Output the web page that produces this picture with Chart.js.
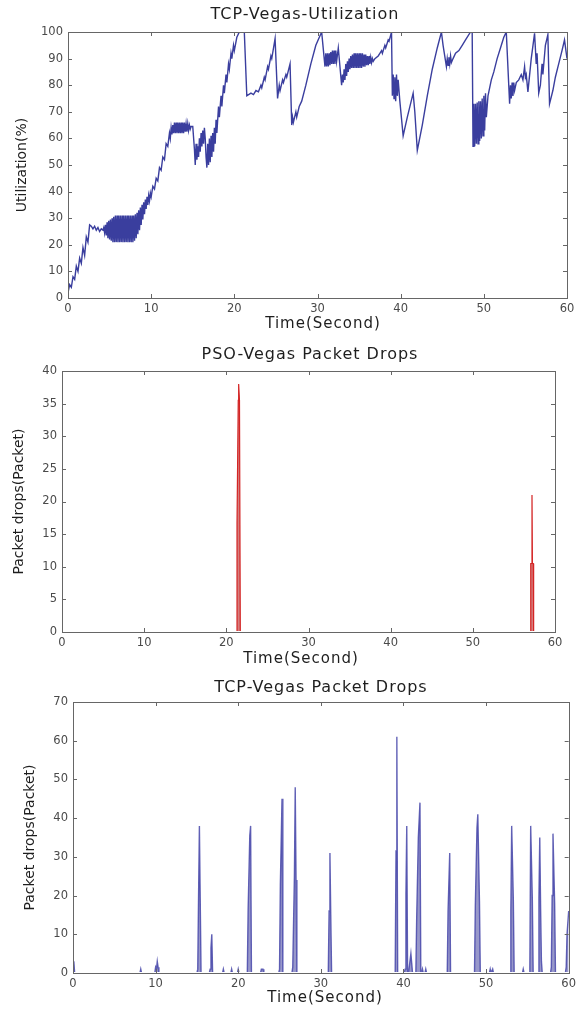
<!DOCTYPE html>
<html>
<head>
<meta charset="utf-8">
<title>TCP-Vegas</title>
<script src="https://cdn.jsdelivr.net/npm/chart.js"></script>
<style>
  body { margin: 0; background: #fff; }
  #page { position: relative; width: 580px; height: 1010px; }
  canvas { position: absolute; left: 0; }
</style>
</head>
<body>
<div id="page">
  <canvas id="utilChart" width="580" height="340" style="top:0px"></canvas>
  <canvas id="psoChart" width="580" height="336" style="top:336px"></canvas>
  <canvas id="vegasChart" width="580" height="338" style="top:672px"></canvas>
</div>
<script>
// TCP-Vegas utilization (%)
const utilTime = [
  0, 0.2, 0.4, 0.6, 0.8, 1.0, 1.2, 1.4, 1.6, 1.8, 2.0, 2.2, 2.4, 2.6,
  2.8, 3.0, 3.2, 3.4, 3.6, 3.8, 4.0, 4.2,
  4.3, 4.4, 4.5, 4.6, 4.7, 4.8, 4.9, 5.0, 5.1, 5.2, 5.3, 5.4, 5.5, 5.6, 5.7,
  5.8, 5.9, 6.0, 6.1, 6.2, 6.3, 6.4, 6.5, 6.6, 6.7, 6.8,
  6.9, 7.0, 7.1, 7.2, 7.3, 7.4, 7.5, 7.6, 7.7, 7.8,
  7.9, 8.0, 8.1, 8.2, 8.3, 8.4, 8.5, 8.6, 8.7, 8.8, 8.9,
  9.0, 9.1, 9.2, 9.3, 9.4, 9.5, 9.6, 9.7, 9.8, 9.9, 10.0,
  10.2, 10.4, 10.6, 10.8, 11.0, 11.2, 11.4, 11.6, 11.8, 12.0, 12.2,
  12.3, 12.4, 12.5, 12.6, 12.7, 12.8, 12.9, 13.0, 13.1, 13.2, 13.3, 13.4, 13.5,
  13.6, 13.7, 13.8, 13.9, 14.0, 14.1, 14.2, 14.3, 14.4, 14.5, 14.6, 14.7, 14.8, 15.0,
  15.2, 15.3, 15.4, 15.5, 15.6, 15.7, 15.8, 15.9, 16.0, 16.1, 16.2, 16.3, 16.4, 16.5,
  16.6, 16.7, 16.8, 16.9, 17.0, 17.1, 17.2, 17.3, 17.4, 17.5, 17.6, 17.7, 17.8, 17.9,
  18.1, 18.2, 18.4, 18.5, 18.7, 18.8, 19.0, 19.1, 19.3, 19.4, 19.6, 19.7, 19.9, 20.0,
  20.3, 20.6, 21.2,
  21.5, 22.0, 22.3, 22.6, 22.9, 23.2, 23.3, 23.6, 23.7, 24.0, 24.1, 24.4, 24.5, 24.9,
  25.2, 25.4, 25.5, 25.8, 25.9, 26.2, 26.3, 26.7, 26.9, 27.0, 27.1, 27.4, 27.5, 27.8,
  28.1, 28.6, 29.2, 29.8, 30.5,
  30.9, 31.0, 31.1, 31.2, 31.3, 31.4, 31.5, 31.6, 31.7, 31.8, 31.9, 32.0, 32.1, 32.2, 32.3, 32.5,
  32.9, 33.0, 33.1, 33.2, 33.3, 33.4, 33.5, 33.6, 33.7, 33.8, 33.9, 34.0, 34.1, 34.2,
  34.3, 34.4, 34.5, 34.6, 34.7, 34.8, 34.9, 35.0, 35.1, 35.2, 35.3, 35.4, 35.5, 35.6,
  35.7, 35.8, 35.9, 36.0, 36.1, 36.2, 36.3, 36.4, 36.5, 36.6, 36.7, 36.9,
  37.3, 37.5, 37.7, 37.8, 38.1, 38.2, 38.5, 38.6, 38.9,
  39.0, 39.1, 39.2, 39.3, 39.4, 39.5, 39.6, 39.7, 39.9, 40.3, 40.8, 41.5, 41.7, 42.0,
  42.6, 43.2, 43.8, 44.4, 44.9, 45.1, 45.5, 45.6, 45.7, 45.8, 45.9, 46.0, 46.1, 46.3,
  46.6, 47.0, 47.4, 47.8, 48.4, 48.6,
  48.7, 48.8, 48.9, 49.0, 49.1, 49.2, 49.3, 49.4, 49.5, 49.6, 49.7, 49.8, 49.9, 50.0,
  50.1, 50.2, 50.3, 50.5, 50.9, 51.2, 51.6, 52.0, 52.4, 52.7,
  53.1, 53.2, 53.3, 53.4, 53.5, 53.6, 53.7, 53.9, 54.2, 54.5, 54.7, 54.9, 55.0, 55.1,
  55.3, 55.7, 56.1, 56.3, 56.4, 56.6, 56.8, 57.0, 57.1, 57.4, 57.7, 57.9, 58.3, 58.6,
  59.0, 59.4, 59.7, 60.0
];
const utilValue = [
  2, 5, 4, 8, 7, 12, 10, 15, 13, 19, 16, 23, 21, 27.5,
  27, 26, 27, 25.5, 26.5, 25, 26, 25.5,
  26.5, 24.5, 27.5, 23.5, 28.5, 22.5, 29, 22, 29.5, 21.5, 30, 21, 30.5, 21, 31,
  21, 31, 21, 31, 21, 31, 21, 31, 21, 31, 21,
  31, 21, 31, 21, 31, 21, 31, 21, 31, 21,
  31, 21.5, 31.5, 22.5, 32, 24, 33, 25.5, 34, 27.5, 35,
  29.5, 36, 31.5, 37, 33.5, 38, 35, 38.5, 36.5, 39.5, 38,
  42, 41, 45, 44, 49, 48, 53, 52, 58, 57, 62,
  60, 64, 61.5, 65, 62, 66, 62, 66, 62, 66, 62, 66, 62,
  66, 62, 66, 62, 66, 62.5, 65.5, 62.5, 65.5, 63, 65, 63.5, 64.5, 64.5,
  56, 50, 58, 52, 57, 53, 60, 55, 62, 57, 63, 58, 64, 60,
  53, 49, 58, 50, 60, 51, 61, 53, 62, 55, 64, 58, 67, 62,
  72, 68, 76, 72, 80, 77, 84, 81, 88, 86, 92, 90, 95, 93,
  98, 100, 100,
  76, 77, 76.5, 78, 77.5, 80, 79, 83, 82, 87, 86, 91, 90, 97.5,
  75, 80, 78, 82, 81, 84, 83, 88, 65, 68, 66, 70, 68, 72,
  74, 80, 88, 95, 100,
  87, 92, 87, 92, 87, 92, 87.5, 92.5, 88, 93, 88, 93, 88, 93, 89, 94,
  80, 84, 81, 86, 82, 88, 83.5, 89, 85, 90, 86, 91, 86.5, 91.5,
  86.5, 92, 86.5, 92, 86.5, 92, 86.5, 92, 86.5, 92, 86.5, 92, 87, 91.5,
  87, 91.5, 87.5, 91, 87.5, 91, 88, 90.5, 88.5, 90, 89, 90,
  91, 92, 93, 92, 95, 94, 97, 96.5, 100,
  76, 84, 75, 83, 74, 84, 76, 82, 74, 61, 68, 77, 70, 55.5,
  65, 76, 86, 94, 100, 95, 87, 90, 87.5, 90.5, 88, 91, 88.5, 90,
  92, 93, 95, 97, 100, 100,
  57, 73, 57, 73, 58, 73.5, 58, 74, 59, 74, 60, 75, 61, 76,
  63, 77, 68, 76, 82, 85, 90, 94, 98, 100,
  73, 80, 75, 81, 76, 81, 78, 81, 82, 84, 82, 87, 83, 84,
  77.5, 90, 99.5, 88, 92, 77, 80, 88, 84, 95, 99, 73, 78, 83,
  88, 93, 97, 90
];

// PSO-Vegas packet drops
const psoTime  = [0, 21.3, 21.3, 21.45, 21.5, 21.6, 21.7, 57.0, 57.05, 57.15, 57.2, 57.25, 57.35, 57.4, 60];
const psoDrops = [0, 0, 16.5, 35.5, 38, 35.5, 0, 0, 10.5, 10.5, 21, 10.5, 10.5, 0, 0];

// TCP-Vegas packet drops
const vegasTime = [
  0, 0.1, 0.2,
  8.1, 8.2, 8.3,
  9.9, 10.0, 10.1, 10.2, 10.3, 10.4,
  15.0, 15.1, 15.2, 15.3, 15.4, 15.5,
  16.5, 16.6, 16.7, 16.8, 16.9,
  18.1, 18.2, 18.3,
  19.1, 19.2, 19.3,
  19.9, 20.0, 20.1,
  21.1, 21.2, 21.4, 21.5, 21.6,
  22.7, 22.8, 22.9, 23.0, 23.1,
  24.9, 25.0, 25.1, 25.3, 25.4,
  26.5, 26.6, 26.8, 26.9, 27.0, 27.1,
  30.9, 31.0, 31.1, 31.2, 31.3,
  39.0, 39.1, 39.2, 39.3,
  40.1, 40.2, 40.3, 40.4, 40.5,
  40.6, 40.7, 40.9, 41.0, 41.1,
  41.5, 41.6, 41.8, 42.0, 42.1,
  42.2, 42.3, 42.4, 42.6, 42.7, 42.8,
  45.3, 45.4, 45.6, 45.7,
  48.6, 48.7, 48.9, 49.0, 49.2, 49.3,
  50.4, 50.5, 50.6, 50.7, 50.8, 50.9,
  52.9, 53.0, 53.1, 53.3, 53.4,
  54.4, 54.5, 54.6,
  55.2, 55.3, 55.4, 55.6, 55.7,
  56.3, 56.4, 56.5, 56.6, 56.7, 56.8,
  57.8, 57.9, 58.0, 58.1, 58.3, 58.4,
  59.6, 59.7, 59.8, 60.0
];
const vegasDrops = [
  1.5, 3, 0,
  0, 1, 0,
  0, 1.5, 1, 3, 1.5, 0,
  0, 1, 20, 38, 19, 0,
  0, 1, 6.5, 10, 0,
  0, 1, 0,
  0, 1, 0,
  0, 1, 0,
  0, 16.5, 35.5, 38, 0,
  0, 1, 1, 1, 0,
  0, 1, 23, 45, 0,
  0, 1.5, 25, 48, 24, 0,
  0, 16, 31, 15, 0,
  0, 31.5, 61, 0,
  0, 1, 20.5, 38, 0,
  0, 1.5, 5, 2.5, 0,
  0, 14, 35, 44, 0,
  0, 1, 0, 0, 1, 0,
  0, 16, 31, 0,
  0, 17.5, 37.5, 41, 18.5, 0,
  0, 1, 0, 0, 1, 0,
  0, 16, 38, 19, 0,
  0, 1, 0,
  0, 1.5, 38, 19, 0,
  0, 19.5, 35, 17, 3, 0,
  0, 1.5, 20, 36, 18, 0,
  0, 1.5, 10, 16
];

function toPoints(xs, ys) {
  return xs.map((x, i) => ({ x: x, y: ys[i] }));
}

const FONT = 'DejaVu Sans';

// matlab style box with inward ticks on all four sides
const boxTicks = {
  id: 'boxTicks',
  afterDatasetsDraw(chart) {
    const ctx = chart.ctx;
    const area = chart.chartArea;
    const xs = chart.scales.x, ys = chart.scales.y;
    const len = 4;
    ctx.save();
    ctx.strokeStyle = '#666';
    ctx.lineWidth = 1;
    ctx.beginPath();
    xs.ticks.forEach(function (t) {
      const px = Math.round(xs.getPixelForValue(t.value)) + 0.5;
      ctx.moveTo(px, area.bottom); ctx.lineTo(px, area.bottom - len);
      ctx.moveTo(px, area.top); ctx.lineTo(px, area.top + len);
    });
    ys.ticks.forEach(function (t) {
      const py = Math.round(ys.getPixelForValue(t.value)) + 0.5;
      ctx.moveTo(area.left, py); ctx.lineTo(area.left + len, py);
      ctx.moveTo(area.right, py); ctx.lineTo(area.right - len, py);
    });
    ctx.stroke();
    ctx.strokeRect(Math.round(area.left) + 0.5, Math.round(area.top) + 0.5,
      Math.round(area.right - area.left), Math.round(area.bottom - area.top));
    ctx.restore();
  }
};

// panel title and x axis caption, placed where the original has them
const captions = {
  id: 'captions',
  afterDraw(chart, args, opts) {
    const ctx = chart.ctx;
    ctx.save();
    ctx.fillStyle = '#1e1e1e';
    ctx.textAlign = 'center';
    ctx.textBaseline = 'middle';
    ctx.letterSpacing = '1px';
    ctx.font = '16px "' + FONT + '"';
    ctx.fillText(opts.title, opts.titleX, opts.titleY);
    ctx.font = '15px "' + FONT + '"';
    ctx.fillText('Time(Second)', opts.xlabX, opts.xlabY);
    ctx.restore();
  }
};

function makePanel(canvasId, p, datasets) {
  const canvas = document.getElementById(canvasId);
  const H = canvas.height;
  const yLH = 14 * 1.2;

  return new Chart(canvas, {
    type: 'line',
    data: { datasets: datasets },
    options: {
      responsive: false,
      animation: false,
      events: [],
      layout: { padding: { left: 0, top: p.top, bottom: 0, right: 580 - p.right } },
      plugins: {
        legend: { display: false },
        tooltip: { enabled: false },
        title: { display: false },
        captions: { title: p.title, titleX: p.titleX, titleY: p.titleY, xlabX: p.xlabX, xlabY: p.xlabY }
      },
      scales: {
        x: {
          type: 'linear',
          min: 0,
          max: 60,
          afterFit: function (s) { s.height = H - p.bottom; },
          grid: { display: false, drawTicks: false },
          border: { display: false },
          ticks: { stepSize: 10, maxRotation: 0, padding: 4, color: '#4a4a4a', font: { family: FONT, size: 11.5 } }
        },
        y: {
          min: 0,
          max: p.yMax,
          afterFit: function (s) { s.width = p.left; },
          grid: { display: false, drawTicks: false },
          border: { display: false },
          ticks: { stepSize: p.yStep, padding: 5, color: '#4a4a4a', font: { family: FONT, size: 11.5 } },
          title: {
            display: true, text: p.yTitle, color: '#1e1e1e',
            font: { family: FONT, size: 14 },
            padding: { top: p.ylabX - yLH / 2, bottom: 0 }
          }
        }
      }
    },
    plugins: [boxTicks, captions]
  });
}

document.addEventListener('DOMContentLoaded', function () {

  makePanel('utilChart', {
    title: 'TCP-Vegas-Utilization', yTitle: 'Utilization(%)',
    left: 68, right: 567, top: 32, bottom: 298,
    titleX: 305, titleY: 15, xlabX: 323, xlabY: 324, ylabX: 22,
    yMax: 100, yStep: 10
  }, [{
    data: toPoints(utilTime, utilValue),
    borderColor: '#3a3e9e',
    borderWidth: 1.4,
    pointRadius: 0,
    tension: 0,
    fill: false
  }]);

  makePanel('psoChart', {
    title: 'PSO-Vegas Packet Drops', yTitle: 'Packet drops(Packet)',
    left: 62, right: 555, top: 35, bottom: 296,
    titleX: 310, titleY: 19, xlabX: 301, xlabY: 323, ylabX: 19,
    yMax: 40, yStep: 5
  }, [{
    data: toPoints(psoTime, psoDrops),
    borderColor: '#d42424',
    backgroundColor: 'rgba(208,112,112,0.9)',
    borderWidth: 1.2,
    pointRadius: 0,
    tension: 0,
    fill: 'origin',
    clip: { left: 0, top: 2, right: 0, bottom: -1 }
  }]);

  makePanel('vegasChart', {
    title: 'TCP-Vegas Packet Drops', yTitle: 'Packet drops(Packet)',
    left: 73, right: 570, top: 30, bottom: 301,
    titleX: 321, titleY: 16, xlabX: 325, xlabY: 326, ylabX: 30,
    yMax: 70, yStep: 10
  }, [{
    data: toPoints(vegasTime, vegasDrops),
    borderColor: 'rgba(72,72,170,0.85)',
    backgroundColor: 'rgba(50,50,150,0.5)',
    borderWidth: 1.4,
    pointRadius: 0,
    tension: 0,
    fill: 'origin',
    clip: { left: 0, top: 2, right: 2, bottom: -1 }
  }]);

});
</script>
</body>
</html>
